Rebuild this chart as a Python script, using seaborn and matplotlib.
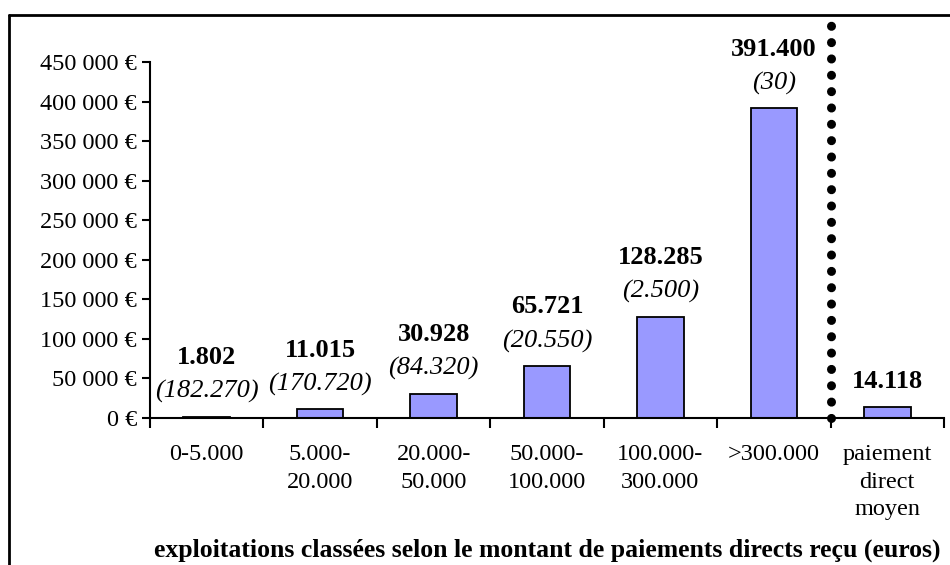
import pandas as pd
import numpy as np
import matplotlib
matplotlib.use("Agg")
import matplotlib.pyplot as plt
import seaborn as sns
from matplotlib.ticker import FuncFormatter, MultipleLocator
from matplotlib.lines import Line2D

# data
categories = ["0-5.000", "5.000-\n20.000", "20.000-\n50.000", "50.000-\n100.000",
              "100.000-\n300.000", ">300.000", "paiement\ndirect\nmoyen"]
paiement_moyen = [1802, 11015, 30928, 65721, 128285, 391400, 14118]
nb_exploitations = [182270, 170720, 84320, 20550, 2500, 30]
xlabel_text = "exploitations classées selon le montant de paiements directs reçu (euros)"

sns.set_theme(style="white")
plt.rcParams['font.family'] = ['Liberation Serif', 'DejaVu Serif']

df = pd.DataFrame({'classe': categories, 'montant': paiement_moyen})

fig = plt.figure(figsize=(9.5, 5.65), dpi=100)
ax = fig.add_axes([150/950, 1-418/565, (944-150)/950, (418-62)/565])

sns.barplot(data=df, x='classe', y='montant', color='#9999FF', saturation=1,
            edgecolor='black', linewidth=1.3, width=0.41, ax=ax)

ax.set_ylim(0, 450000)
ax.set_xlim(-0.5, len(categories)-0.5)
ax.yaxis.set_major_locator(MultipleLocator(50000))
ax.yaxis.set_major_formatter(FuncFormatter(lambda v, p: f"{int(v):,} €".replace(',', ' ')))
# labels on minor ticks (centres), tick marks on major ticks (borders)
ax.set_xticks(np.arange(len(categories)), minor=True)
ax.set_xticklabels(categories, minor=True)
ax.set_xticks(list(np.arange(len(categories)) - 0.5) + [len(categories) - 0.5])
ax.set_xticklabels([''] * (len(categories) + 1))
ax.tick_params(axis='x', which='major', direction='out', length=7, width=1.5, bottom=True, color='black')
ax.tick_params(axis='x', which='minor', length=0, pad=19, labelsize=17.5, labelcolor='black')
ax.tick_params(axis='y', direction='out', length=6, width=1.5, left=True, pad=3.5,
               labelsize=17.5, labelcolor='black', color='black')
for t in ax.get_xticklabels(minor=True):
    t.set_linespacing(1.4)

sns.despine(ax=ax)
for s in ['left', 'bottom']:
    ax.spines[s].set_color('black')
    ax.spines[s].set_linewidth(1.5)
ax.set_xlabel('')
ax.set_ylabel('')

# value labels: amount in bold, number of farms in italic
for i, v in enumerate(paiement_moyen):
    if i < len(nb_exploitations):
        ax.annotate(f"{v:,}".replace(',', '.'), (i, v), xytext=(0, 42.5), textcoords='offset points',
                    ha='center', va='center', fontsize=19, fontweight='bold', color='black')
        ax.annotate(f"({nb_exploitations[i]:,})".replace(',', '.'), (i, v), xytext=(0, 18),
                    textcoords='offset points', ha='center', va='center', fontsize=19,
                    fontstyle='italic', color='black')
    else:
        ax.annotate(f"{v:,}".replace(',', '.'), (i, v), xytext=(0, 18), textcoords='offset points',
                    ha='center', va='center', fontsize=19, fontweight='bold', color='black')

# dotted separator
ax.axvline(len(categories) - 1.5, ymin=0, ymax=(418-15)/356, clip_on=False, color='black',
           lw=6.5, linestyle=(0, (0.01, 1.8)), dash_capstyle='round', zorder=5)

fig.text(547/950, 1-550.7/565, xlabel_text, ha='center', va='center',
         fontsize=18.5, fontweight='bold', color='black')

# frame round the chart
fig.add_artist(Line2D([9/950, 9/950], [0, 1-14.5/565], transform=fig.transFigure, color='black', lw=2))
fig.add_artist(Line2D([9/950, 1], [1-14.5/565, 1-14.5/565], transform=fig.transFigure, color='black', lw=2))

fig.savefig('out.png', dpi=100)
